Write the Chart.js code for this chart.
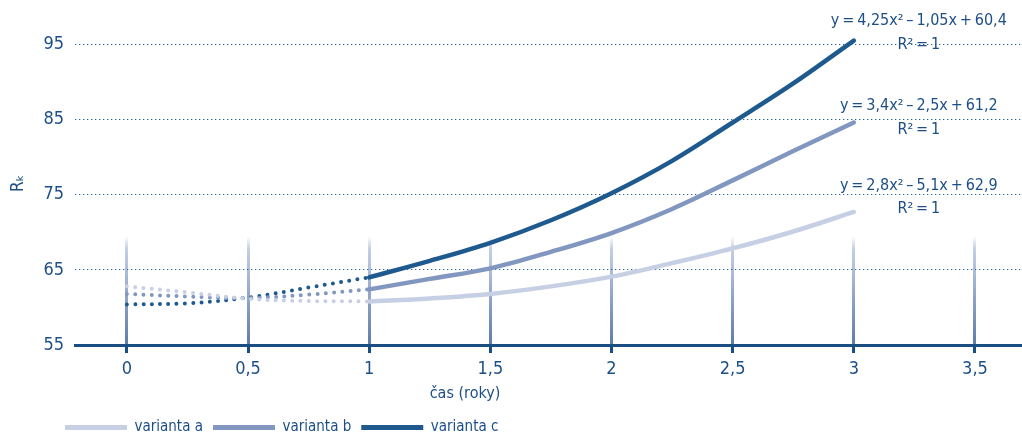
<!DOCTYPE html>
<html>
<head>
<meta charset="utf-8">
<script src="https://cdn.jsdelivr.net/npm/chart.js@4"></script>
<style>
  html, body { margin: 0; padding: 0; background: #fff; }
  #wrap { width: 1022px; height: 437px; }
</style>
</head>
<body>
<div id="wrap"><canvas id="rkChart" width="1022" height="437"></canvas></div>
<script>
// hodnoty
const xValues = [0, 0.25, 0.5, 0.75, 1, 1.25, 1.5, 1.75, 2, 2.25, 2.5, 2.75, 3];
const aValues = [62.8, 62.0, 61.15, 60.85, 60.8, 61.2, 61.8, 62.8, 64.1, 65.9, 67.85, 70.1, 72.7];
const bValues = [61.8, 61.45, 61.25, 61.7, 62.4, 63.8, 65.2, 67.4, 69.9, 73.1, 76.9, 80.8, 84.6];
const cValues = [60.4, 60.55, 61.3, 62.65, 64.0, 66.2, 68.6, 71.6, 75.2, 79.5, 84.6, 89.8, 95.5];

const seriesNames = ['varianta a', 'varianta b', 'varianta c'];
const equations = [
    'y\u2009=\u20092,8x²\u2009–\u20095,1x\u2009+\u200962,9',
    'y\u2009=\u20093,4x²\u2009–\u20092,5x\u2009+\u200961,2',
    'y\u2009=\u20094,25x²\u2009–\u20091,05x\u2009+\u200960,4'
];
const rSquared = ['R²\u2009=\u20091', 'R²\u2009=\u20091', 'R²\u2009=\u20091'];

const xTicks = [0, 0.5, 1, 1.5, 2, 2.5, 3, 3.5];
const yTicks = [55, 65, 75, 85, 95];

const colors = ['#c6cfe3', '#8197c0', '#1f5a8f'];
const textColor = '#1d4f86';
const fontFamily = '"Liberation Sans Narrow", "DejaVu Sans Condensed", "Open Sans", sans-serif';

const allSeries = [aValues, bValues, cValues];
const splitIndex = xValues.indexOf(1);

function points(values, from, to) {
    const out = [];
    for (let i = from; i <= to; i++) out.push({ x: xValues[i], y: values[i] });
    return out;
}

const datasets = [];
// tečkované části (0 až 1)
allSeries.forEach((vals, i) => {
    datasets.push({
        label: seriesNames[i] + ' (teckovane)',
        data: points(vals, 0, splitIndex),
        borderColor: colors[i],
        borderWidth: 4,
        borderDash: [0, 8.3],
        borderCapStyle: 'round',
        pointRadius: 0,
        tension: 0.35,
        fill: false,
        solid: false
    });
});
// plné části (1 až 3)
allSeries.forEach((vals, i) => {
    datasets.push({
        label: seriesNames[i],
        data: points(vals, splitIndex, xValues.length - 1),
        borderColor: colors[i],
        backgroundColor: colors[i],
        borderWidth: 4.5,
        borderCapStyle: 'round',
        pointRadius: 0,
        tension: 0.35,
        fill: false,
        solid: true
    });
});

// rovnice u konců křivek
const equationPlugin = {
    id: 'equations',
    afterDatasetsDraw(chart) {
        const { ctx, scales } = chart;
        const offsets = [[-26, -3], [-17, 7], [-20, 4]];
        ctx.save();
        ctx.fillStyle = textColor;
        ctx.font = '16px ' + fontFamily;
        ctx.textAlign = 'center';
        ctx.textBaseline = 'middle';
        const cx = scales.x.getPixelForValue(3) + 65;
        allSeries.forEach((vals, i) => {
            const py = scales.y.getPixelForValue(vals[vals.length - 1]);
            ctx.fillText(equations[i], cx, py + offsets[i][0]);
            ctx.fillText(rSquared[i], cx, py + offsets[i][1]);
        });
        ctx.restore();
    }
};

// popisek osy x a posun legendy
const layoutPlugin = {
    id: 'layoutTweaks',
    afterLayout(chart) {
        chart.legend.left = 55;
        chart.legend.top += 10;
    },
    afterDraw(chart) {
        const { ctx, chartArea } = chart;
        ctx.save();
        ctx.fillStyle = textColor;
        ctx.font = '16px ' + fontFamily;
        ctx.textAlign = 'center';
        ctx.textBaseline = 'middle';
        ctx.fillText('čas (roky)', 465, chartArea.bottom + 49);
        ctx.restore();
    }
};

const rkChart = new Chart(document.getElementById('rkChart').getContext('2d'), {
    type: 'line',
    data: { datasets: datasets },
    plugins: [equationPlugin, layoutPlugin],
    options: {
        responsive: false,
        animation: false,
        layout: { padding: { top: 18, right: 0, left: 0, bottom: 2 } },
        scales: {
            x: {
                type: 'linear',
                min: -0.214,
                max: 3.694,
                afterBuildTicks: (scale) => { scale.ticks = xTicks.map(v => ({ value: v })); },
                afterFit: (scale) => { scale.height = 55; },
                ticks: {
                    color: textColor,
                    font: { family: fontFamily, size: 18 },
                    padding: 6,
                    callback: (v) => String(v).replace('.', ',')
                },
                border: { display: true, color: '#1a4d84', width: 3 },
                grid: {
                    lineWidth: 3,
                    tickLength: 8,
                    tickWidth: 3,
                    tickColor: '#1a4d84',
                    color: (context) => {
                        const chart = context.chart;
                        const area = chart.chartArea;
                        if (!area) return 'rgba(0,0,0,0)';
                        const top = chart.scales.y.getPixelForValue(69.5);
                        const g = chart.ctx.createLinearGradient(0, top, 0, area.bottom);
                        g.addColorStop(0, 'rgba(185,198,224,0)');
                        g.addColorStop(0.12, 'rgba(185,198,224,0.85)');
                        g.addColorStop(0.5, 'rgba(150,170,205,1)');
                        g.addColorStop(1, 'rgba(95,124,170,1)');
                        return g;
                    }
                }
            },
            y: {
                min: 55,
                max: 98,
                afterBuildTicks: (scale) => { scale.ticks = yTicks.map(v => ({ value: v })); },
                afterFit: (scale) => { scale.width = 75; },
                ticks: {
                    color: textColor,
                    font: { family: fontFamily, size: 18 },
                    padding: 11
                },
                border: { display: false, dash: [1.3, 2.7] },
                grid: {
                    color: (context) => context.tick && context.tick.value === 55 ? 'rgba(0,0,0,0)' : '#2b63a0',
                    lineWidth: 1,
                    drawTicks: false
                },
                title: {
                    display: true,
                    text: 'Rₖ',
                    color: textColor,
                    font: { family: fontFamily, size: 17 },
                    padding: { top: 8, bottom: 0 }
                }
            }
        },
        plugins: {
            legend: {
                display: true,
                position: 'bottom',
                align: 'start',
                labels: {
                    boxWidth: 62,
                    boxHeight: 5,
                    padding: 10,
                    color: textColor,
                    font: { family: fontFamily, size: 15 },
                    useBorderRadius: true,
                    borderRadius: 2.5,
                    generateLabels: (chart) => chart.data.datasets
                        .map((ds, i) => ({ ds, i }))
                        .filter(o => o.ds.solid)
                        .map(o => ({
                            text: o.ds.label,
                            fillStyle: o.ds.borderColor,
                            strokeStyle: o.ds.borderColor,
                            lineWidth: 0,
                            fontColor: textColor,
                            datasetIndex: o.i
                        }))
                }
            },
            tooltip: { enabled: false }
        }
    }
});
</script>
</body>
</html>
